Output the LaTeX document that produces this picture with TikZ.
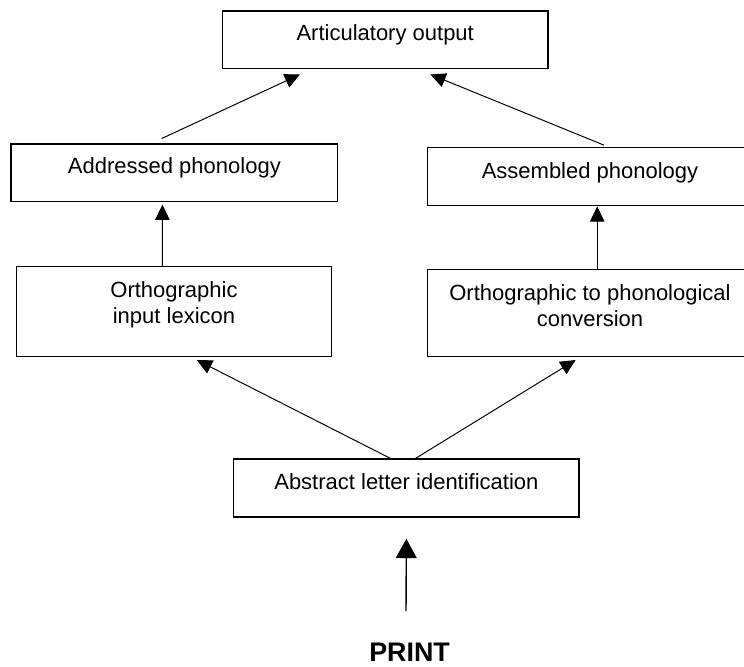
\documentclass[tikz,border=0pt]{standalone}
\usepackage{fontspec}
\setmainfont{Liberation Sans}
\usepackage{tikz}
\usetikzlibrary{arrows.meta,calc}
\tikzstyle{tsText} = [
    text=black,
    font=\fontsize{15.65}{18.85}\selectfont
]
\tikzstyle{tsBox} = [
    rectangle,
    tsText,
    align=center,
    draw=black,
    line width=0.9pt,
    inner xsep=0pt,
    inner ysep=0pt,
    text height=0.75cm
]
\tikzstyle{tsArrow} = [
    line width=0.7pt,
    -{Triangle[length=0.38cm,width=0.36cm]}
]
\tikzstyle{tsBigArrow} = [
    line width=1pt,
    -{Triangle[length=0.48cm,width=0.52cm]}
]

\begin{document}
\begin{tikzpicture}
        
        \useasboundingbox (0,0) rectangle (18.6,16.65);
        
        \node[tsBox, minimum width=8.14cm, text depth=0.68cm] (art) at (9.63,15.66) {Articulatory output};
        \node[tsBox, minimum width=8.17cm, text depth=0.69cm] (addr) at (4.36,12.33) {Addressed phonology};
        \node[tsBox, minimum width=8.11cm, text height=0.78cm, text depth=0.67cm] (asm) at (14.75,12.23) {Assembled phonology};
        \node[tsBox, minimum width=7.86cm, text height=1.43cm, text depth=0.82cm] (oil) at (4.35,8.86) {Orthographic\\input lexicon};
        \node[tsBox, minimum width=8.11cm, text height=1.43cm, text depth=0.74cm] (opc) at (14.75,8.82) {Orthographic to phonological\\conversion};
        \node[tsBox, minimum width=8.63cm, text height=0.77cm, text depth=0.68cm] (ali) at (10.16,4.45) {Abstract letter identification};
        
        \node[tsText, font=\fontsize{19.1}{22}\selectfont\bfseries, anchor=base, inner sep=0pt] (print) at (10.24,0.12) {PRINT};
        \coordinate (src) at (10.15,1.38);
        
        \draw[tsArrow] ($(addr.north)+(-0.32,0.12)$) -- ($(art.south)+(-2.13,-0.14)$);
        \draw[tsArrow] ($(asm.north)+(0.35,0.05)$) -- ($(art.south)+(1.13,-0.14)$);
        \draw[tsArrow] ($(oil.north)+(-0.29,0)$) -- ($(addr.south)+(-0.3,-0.06)$);
        \draw[tsArrow] ($(opc.north)+(0.18,0)$) -- ($(asm.south)+(0.18,0)$);
        \draw[tsArrow] ($(ali.north)+(-0.4,0)$) -- ($(oil.south)+(0.57,-0.07)$);
        \draw[tsArrow] ($(ali.north)+(0.23,0)$) -- ($(opc.south)+(-0.36,-0.07)$);
        \draw[tsBigArrow] (src) -- ($(ali.south)+(0,-0.53)$);
        
\end{tikzpicture}
\end{document}
